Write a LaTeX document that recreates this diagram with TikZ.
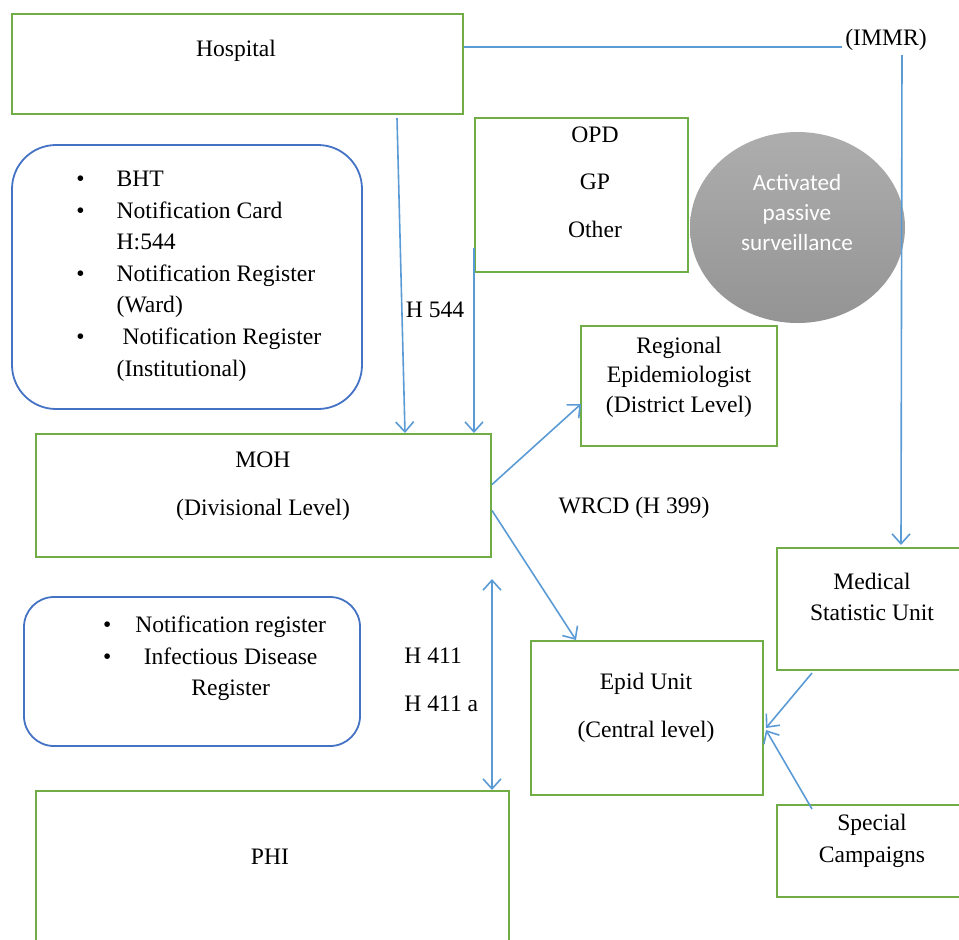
\documentclass[tikz,border=0pt]{standalone}
\usepackage{fontspec}
\setmainfont{Liberation Serif}
\newfontfamily\apsfont{Carlito}
\usepackage{xcolor}
\usepackage{tikz}
\usetikzlibrary{arrows.meta,positioning,shapes.geometric,calc}

\definecolor{boxgreen}{RGB}{112,173,71}
\definecolor{linkblue}{RGB}{91,155,213}
\definecolor{listblue}{RGB}{68,114,196}

\begin{document}
\begin{tikzpicture}[
  x=0.5pt, y=-0.5pt,
  font=\fontsize{11.8}{15.8}\selectfont,
  unitbox/.style  = {draw=boxgreen, line width=1pt, rectangle},
  listbox/.style  = {draw=listblue, line width=0.9pt, rectangle},
  txt/.style      = {inner sep=0pt, align=center},
  arr/.style      = {-{Straight Barb[length=5pt,width=9pt]}, line width=0.8pt, linkblue},
  dblarr/.style   = {{Straight Barb[length=5pt,width=9pt]}-{Straight Barb[length=5pt,width=9pt]},
                     line width=0.8pt, linkblue},
  link/.style     = {line width=0.8pt, linkblue},
]
\useasboundingbox (0,0) rectangle (959,939);
\clip (0,0) rectangle (959,939);

%% ── Top: hospital and the other sources ─────────────────────────────────────
\node[unitbox, minimum width=225.5pt, minimum height=50pt] (hosp) at (237.5,64) {};
\node[txt] (hospT) at (236,51) {Hospital};

\node[txt] (immr) at (886,40) {(IMMR)};

\node[unitbox, minimum width=106.5pt, minimum height=77pt] (opd) at (581.5,195) {};
\node[txt] (opdT) at (595,182) {OPD\\[8pt]GP\\[8pt]Other};

\node[ellipse, draw=none, top color=black!32, bottom color=black!42,
      minimum width=107.5pt, minimum height=95.5pt] (aps) at (797.5,227.5) {};
\node[txt, text=white, font=\apsfont\fontsize{11.6}{15}\selectfont]
  (apsT) at (797,213) {Activated\\passive\\surveillance};

%% ── Records kept at the hospital ─────────────────────────────────────────────
\node[listbox, rounded corners=22pt, minimum width=175pt, minimum height=132pt]
  (hospList) at (187,277) {};
\node[txt, anchor=west] (hospListT) at (76,275)
  {\begin{tabular}{@{}l@{\hspace{16pt}}l@{}}
     \textbullet & BHT\\
     \textbullet & Notification Card\\
                 & H:544\\
     \textbullet & Notification Register\\
                 & (Ward)\\
     \textbullet & \ Notification Register\\
                 & (Institutional)
   \end{tabular}};

%% ── Divisional and district level ────────────────────────────────────────────
\node[unitbox, minimum width=227.5pt, minimum height=61.5pt] (moh) at (263.5,495.5) {};
\node[txt] (mohT) at (263,486) {MOH\\[8pt](Divisional Level)};

\node[unitbox, minimum width=98pt, minimum height=60pt] (reg) at (679,386) {};
\node[txt] (regT) at (679,377) {Regional\\[-1pt]Epidemiologist\\[-1pt](District Level)};

\node[txt] (h544) at (435,310) {H 544};
\node[txt] (wrcd) at (634,508) {WRCD (H 399)};

%% ── Central level ────────────────────────────────────────────────────────────
\node[unitbox, minimum width=116pt, minimum height=77pt] (epid) at (647,718) {};
\node[txt] (epidT) at (646,708) {Epid Unit\\[8pt](Central level)};

\node[unitbox, minimum width=111.5pt, minimum height=61pt] (msu) at (888.5,609) {};
\node[txt] (msuT) at (872,597) {Medical\\Statistic Unit};

\node[unitbox, minimum width=111.5pt, minimum height=46pt] (spc) at (888.5,851) {};
\node[txt] (spcT) at (872,841) {Special\\Campaigns};

%% ── Field level ──────────────────────────────────────────────────────────────
\node[listbox, rounded corners=15pt, minimum width=168pt, minimum height=74.5pt]
  (mohList) at (192,671.5) {};
\node[txt] (mohListT) at (214.5,658)
  {\begin{tabular}{@{}r@{\hspace{12pt}}c@{}}
     \textbullet & Notification register\\
     \textbullet & Infectious Disease\\
                 & Register
   \end{tabular}};

\node[txt, align=left, anchor=west] (h411) at (404,680) {H 411\\[8pt]H 411 a};

\node[unitbox, minimum width=236.5pt, minimum height=100pt] (phi) at (272.5,891) {};
\node[txt] (phiT) at (270,857) {PHI};

%% ── Connectors ───────────────────────────────────────────────────────────────
\coordinate (immrIn) at ($(immr.west)+(-3,7)$);
\draw[link] (hosp.east |- immrIn) -- (immrIn);
\draw[arr] ($(immr.south)+(16,4)$) -- ($(msu.north west)+(125,-2)$);

\draw[arr] ($(hosp.south west)+(386,3)$) -- ($(moh.north west)+(370,0)$);
\draw[arr] ($(opd.south west)+(0,-25)$) -- (opd.south west |- moh.north);

\draw[arr] ($(moh.east)+(0,-11)$) -- ($(reg.west)+(1,18)$);
\draw[arr] ($(moh.east)+(0,15)$) -- ($(epid.north west)+(46,0)$);
\draw[dblarr] ($(moh.south east)+(0,21)$) -- (moh.south east |- phi.north);

\draw[arr] ($(msu.south west)+(36,2)$) -- ($(epid.east)+(2,10)$);
\draw[arr] ($(spc.north west)+(36,5)$) -- ($(epid.east)+(2,12)$);

\end{tikzpicture}
\end{document}
